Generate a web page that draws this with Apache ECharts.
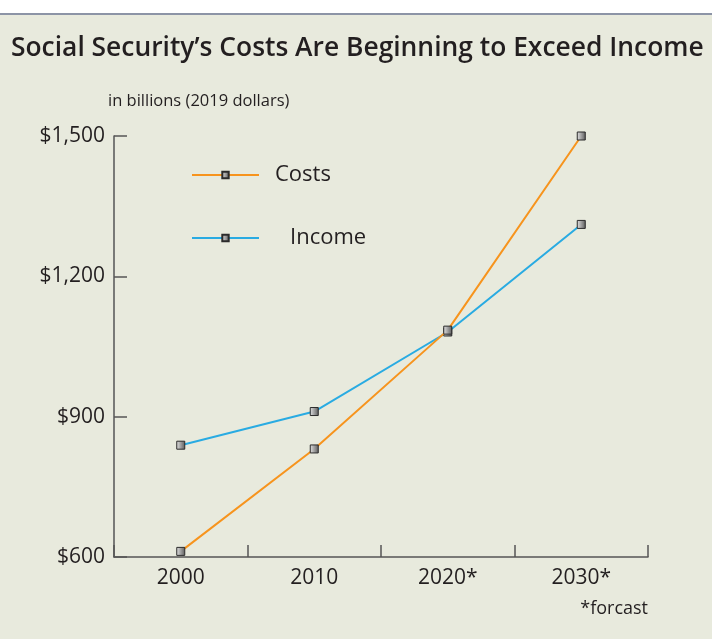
<!DOCTYPE html>
<html>
<head>
<meta charset="utf-8">
<script src="https://cdn.jsdelivr.net/npm/echarts@6/dist/echarts.min.js"></script>
<style>
html,body{margin:0;padding:0;background:#fff;}
#c{width:712px;height:639px;}
</style>
</head>
<body>
<div id="c"></div>
<script>
const categories = ['2000', '2010', '2020*', '2030*'];
const costs = [612, 831, 1085, 1500];
const income = [839, 911, 1081, 1311];
const yTicks = [600, 900, 1200, 1500];

const FONT = '"Open Sans", "Noto Sans", sans-serif';
const markerStyle = {
  color: {
    type: 'linear', x: 0, y: 0, x2: 1, y2: 0,
    colorStops: [{offset: 0, color: '#e6e6e6'}, {offset: 1, color: '#5a5a5a'}]
  },
  borderColor: '#2b2b2b',
  borderWidth: 1
};

const chart = echarts.init(document.getElementById('c'), null, {renderer: 'canvas'});
chart.setOption({
  backgroundColor: '#fff',
  animation: false,
  graphic: [
    {type: 'rect', z: -10, shape: {x: 0, y: 14, width: 712, height: 625}, style: {fill: '#e8eadd'}},
    {type: 'rect', z: -9, shape: {x: 0, y: 13, width: 712, height: 2}, style: {fill: '#8c94a6'}},
    {type: 'text', left: 11, top: 35, style: {text: 'Social Security’s Costs Are Beginning to Exceed Income', font: '600 26.4px ' + FONT, fill: '#231f20'}},
    {type: 'text', left: 108, top: 93, style: {text: 'in billions (2019 dollars)', font: '16.5px ' + FONT, fill: '#231f20'}},
    {type: 'text', right: 64, top: 600, style: {text: '*forcast', font: '18px ' + FONT, fill: '#231f20', textAlign: 'right'}}
  ],
  grid: {left: 114, right: 64, top: 136, bottom: 82, containLabel: false},
  legend: [
    {data: ['Costs'], left: 186, top: 159, itemWidth: 67, itemHeight: 8,
     textStyle: {fontSize: 22, fontFamily: FONT, color: '#231f20', padding: [0, 0, 0, 11]}},
    {data: ['Income'], left: 186, top: 222, itemWidth: 67, itemHeight: 8,
     textStyle: {fontSize: 22, fontFamily: FONT, color: '#231f20', padding: [0, 0, 0, 26]}}
  ],
  xAxis: {
    type: 'category',
    data: categories,
    boundaryGap: true,
    axisLine: {lineStyle: {color: '#555', width: 1.5}},
    axisTick: {show: true, inside: true, length: 12, alignWithLabel: false, lineStyle: {color: '#555', width: 1.5}},
    axisLabel: {fontSize: 21, fontFamily: FONT, color: '#231f20', margin: 11}
  },
  yAxis: {
    type: 'value',
    min: 600, max: 1500, interval: 300,
    axisLine: {show: true, lineStyle: {color: '#555', width: 1.5}},
    axisTick: {show: true, inside: true, length: 13, lineStyle: {color: '#555', width: 1.5}},
    splitLine: {show: false},
    axisLabel: {fontSize: 21, fontFamily: FONT, color: '#231f20', margin: 9,
      formatter: v => yTicks.includes(v) ? '$' + v.toLocaleString('en-US') : ''}
  },
  series: [
    {name: 'Costs', type: 'line', data: costs, symbol: 'rect', symbolSize: 8,
     lineStyle: {color: '#f7941d', width: 2}, itemStyle: markerStyle, color: '#f7941d', z: 3},
    {name: 'Income', type: 'line', data: income, symbol: 'rect', symbolSize: 8,
     lineStyle: {color: '#29abe2', width: 2}, itemStyle: markerStyle, color: '#29abe2', z: 2}
  ]
});
</script>
</body>
</html>
